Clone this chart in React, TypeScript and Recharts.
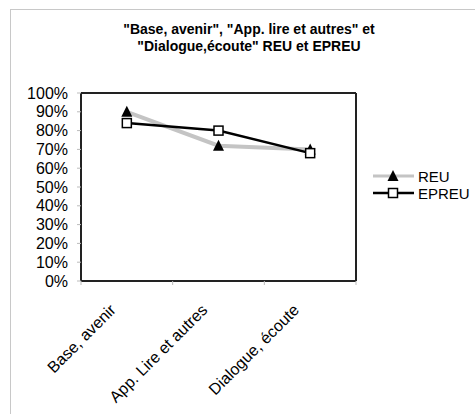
import { Line, LineChart, XAxis, YAxis } from "recharts";

// Data
const categories = ["Base, avenir", "App. Lire et autres", "Dialogue, écoute"];
const reu = [0.9, 0.72, 0.7];
const epreu = [0.84, 0.8, 0.68];
const yTicks = [0, 0.1, 0.2, 0.3, 0.4, 0.5, 0.6, 0.7, 0.8, 0.9, 1];

const data = categories.map((name, i) => ({ name, reu: reu[i], epreu: epreu[i] }));

const FONT = "'Liberation Sans', Arial, sans-serif";
const W = 475;
const H = 414;
const MARGIN = { top: 92, right: 118, bottom: 0, left: 0 };
const PLOT_W = W - 81 - 119;
const HALF_BAND = PLOT_W / categories.length / 2;

const Triangle = ({ cx, cy }: { cx?: number; cy?: number }) => {
  if (cx == null || cy == null) return null;
  return <polygon points={`${cx - 5.5},${cy + 5} ${cx + 5.5},${cy + 5} ${cx},${cy - 6}`} fill="#000" />;
};

const Square = ({ cx, cy }: { cx?: number; cy?: number }) => {
  if (cx == null || cy == null) return null;
  return <rect x={cx - 4.5} y={cy - 4.5} width={9} height={9} fill="#fff" stroke="#000" strokeWidth={1.5} />;
};

const CategoryTick = (props: any) => {
  const { x, y, payload, index } = props;
  const tx = x - 10;
  const ty = y + 30;
  return (
    <g>
      <line x1={x - HALF_BAND} x2={x - HALF_BAND} y1={y} y2={y + 4} stroke="#bbb" />
      {index === categories.length - 1 && (
        <line x1={x + HALF_BAND} x2={x + HALF_BAND} y1={y} y2={y + 4} stroke="#bbb" />
      )}
      <text
        x={tx}
        y={ty}
        transform={`rotate(-45, ${tx}, ${ty})`}
        textAnchor="end"
        fontSize={16}
        fontFamily={FONT}
        fill="#000"
      >
        {payload.value}
      </text>
    </g>
  );
};

const LegendBox = () => (
  <svg width={110} height={40} style={{ position: "absolute", left: 370, top: 166 }}>
    <line x1={3} x2={44} y1={10} y2={10} stroke="#c4c4c4" strokeWidth={3} />
    <Triangle cx={23} cy={10} />
    <text x={48} y={15.5} fontSize={15} fontFamily={FONT}>REU</text>
    <line x1={3} x2={44} y1={27} y2={27} stroke="#000" strokeWidth={2.5} />
    <Square cx={23} cy={27} />
    <text x={48} y={32.5} fontSize={15} fontFamily={FONT}>EPREU</text>
  </svg>
);

export default function App() {
  return (
    <div
      style={{
        position: "absolute",
        left: 0,
        top: 0,
        width: W,
        height: H,
        overflow: "hidden",
        background: "#fff",
      }}
    >
      <div
        style={{
          position: "absolute",
          left: 10,
          top: 9,
          width: 600,
          height: 600,
          borderTop: "1px solid #c8c8c8",
          borderLeft: "1px solid #c8c8c8",
        }}
      />
      <div
        style={{
          position: "absolute",
          left: 0,
          top: 21,
          width: 498,
          textAlign: "center",
          fontFamily: FONT,
          fontWeight: "bold",
          fontSize: 14,
          lineHeight: "17px",
        }}
      >
        "Base, avenir", "App. lire et autres" et
        <br />
        "Dialogue,écoute" REU et EPREU
      </div>
      <div style={{ position: "absolute", left: 0, top: 0 }}>
        <LineChart width={W} height={H} data={data} margin={MARGIN}>
          <XAxis
            dataKey="name"
            padding={{ left: HALF_BAND, right: HALF_BAND }}
            height={133}
            tickLine={false}
            tickSize={0}
            tickMargin={0}
            tick={<CategoryTick />}
            axisLine={{ stroke: "#222", strokeWidth: 2 }}
            interval={0}
          />
          <XAxis
            xAxisId="top"
            dataKey="name"
            orientation="top"
            height={1}
            tick={false}
            tickLine={false}
            axisLine={{ stroke: "#222", strokeWidth: 2 }}
          />
          <YAxis
            domain={[0, 1]}
            ticks={yTicks}
            width={81}
            tickSize={4}
            tickMargin={9}
            tickLine={{ stroke: "#bbb" }}
            axisLine={{ stroke: "#222", strokeWidth: 2 }}
            tickFormatter={(v) => `${Math.round(v * 100)}%`}
            tick={{ fontSize: 16, fontFamily: FONT, fill: "#000" }}
            interval={0}
          />
          <YAxis
            yAxisId="right"
            orientation="right"
            domain={[0, 1]}
            width={1}
            tick={false}
            tickLine={false}
            axisLine={{ stroke: "#222", strokeWidth: 2 }}
          />
          {/* invisible series that anchors the frame axes */}
          <Line
            xAxisId="top"
            yAxisId="right"
            dataKey="epreu"
            stroke="none"
            dot={false}
            activeDot={false}
            legendType="none"
            isAnimationActive={false}
          />
          <Line
            dataKey="reu"
            name="REU"
            stroke="#c4c4c4"
            strokeWidth={4}
            dot={<Triangle />}
            activeDot={false}
            isAnimationActive={false}
          />
          <Line
            dataKey="epreu"
            name="EPREU"
            stroke="#000"
            strokeWidth={2.5}
            dot={<Square />}
            activeDot={false}
            isAnimationActive={false}
          />
        </LineChart>
      </div>
      <LegendBox />
    </div>
  );
}
